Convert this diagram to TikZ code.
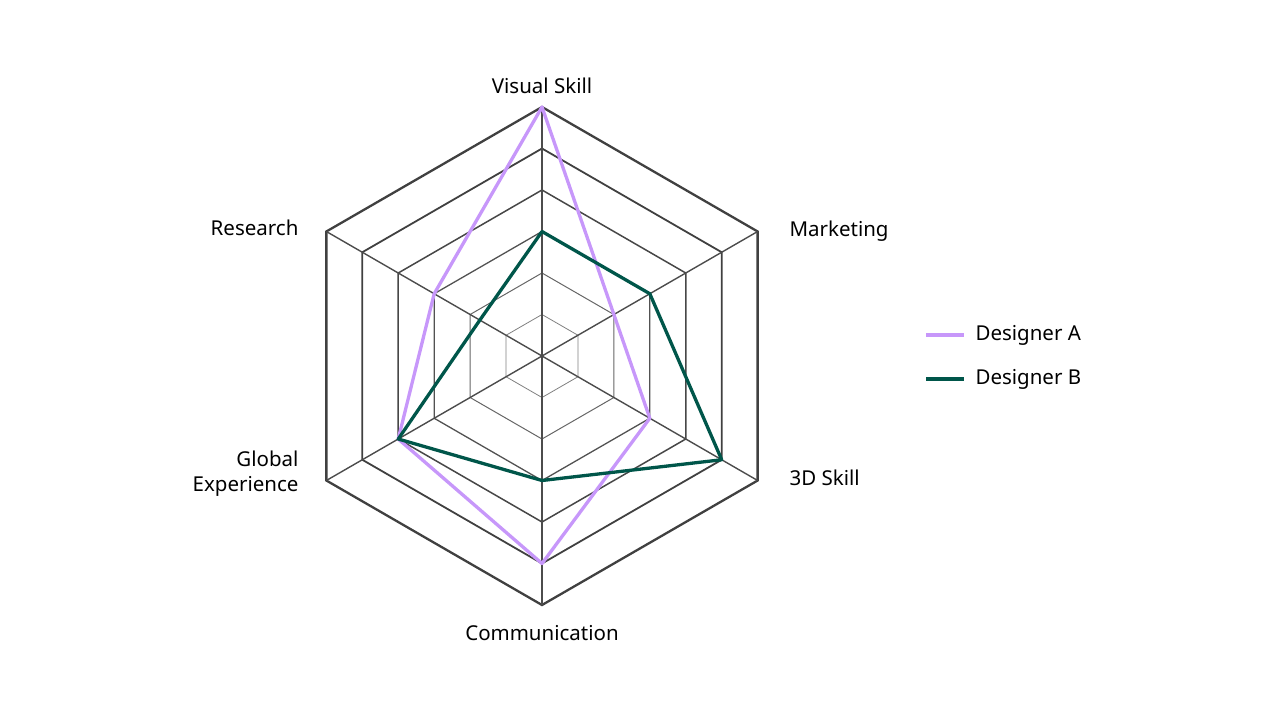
\documentclass[tikz,border=0pt]{standalone}
\usepackage{fontspec}
\setmainfont{Noto Sans}
\definecolor{pa}{HTML}{C797FA}
\definecolor{pb}{HTML}{00564A}
\begin{document}
\begin{tikzpicture}[x=1pt,y=-1pt,
  lab/.style={font=\fontsize{20.5}{25}\selectfont},
  sa/.style={pa,line width=3.3pt,line join=round},
  sb/.style={pb,line width=3.3pt,line join=round}]
\useasboundingbox (0,0) rectangle (1280,720);
\def\R{41.5}
\coordinate (c) at (542,356);
% rings
\foreach \k/\g/\w in {1/50/0.8,2/60/1.0,3/68/1.3,4/72/1.5,5/75/1.8,6/75/2.3}{
  \draw[black!\g,line width=\w pt]
    (542,{356-\k*\R}) -- ({542+0.866*\k*\R},{356-0.5*\k*\R}) -- ({542+0.866*\k*\R},{356+0.5*\k*\R})
    -- (542,{356+\k*\R}) -- ({542-0.866*\k*\R},{356+0.5*\k*\R}) -- ({542-0.866*\k*\R},{356-0.5*\k*\R}) -- cycle;
}
\foreach \dx/\dy in {0/-1,0.866/-0.5,0.866/0.5,0/1,-0.866/0.5,-0.866/-0.5}
  \draw[black!70,line width=1.4pt] (c) -- ({542+\dx*6*\R},{356+\dy*6*\R});
% data: visual, marketing, 3d, comm, global, research
\newcommand\pt[3]{({542+#2*#1*41.5},{356+#3*#1*41.5})}
\draw[sa] \pt{6}{0}{-1} -- \pt{2}{0.866}{-0.5} -- \pt{3}{0.866}{0.5} -- \pt{5}{0}{1} -- \pt{4}{-0.866}{0.5} -- \pt{3}{-0.866}{-0.5} -- cycle;
\draw[sb] \pt{3}{0}{-1} -- \pt{3}{0.866}{-0.5} -- \pt{5}{0.866}{0.5} -- \pt{3}{0}{1} -- \pt{4}{-0.866}{0.5} -- \pt{1.73}{-0.866}{-0.5} -- cycle;
% labels
\node[lab] (l1) at (542,86) {Visual Skill};
\node[lab,anchor=west] (l2) at (786,231) {Marketing};
\node[lab,anchor=west] (l3) at (786,478) {3D Skill};
\node[lab] (l4) at (542,633) {Communication};
\node[lab,anchor=east,align=right] (l5) at (302,474) {Global\\Experience};
\node[lab,anchor=east] (l6) at (302,228) {Research};
% legend
\coordinate (a1) at (926,335); \coordinate (a2) at (964,335);
\coordinate (b1) at (926,379); \coordinate (b2) at (964,379);
\draw[sa,line width=3.8pt] (a1) -- (a2);
\draw[sb,line width=3.8pt] (b1) -- (b2);
\node[lab,anchor=west] (la) at (972,335) {Designer A};
\node[lab,anchor=west] (lb) at (972,379) {Designer B};
\end{tikzpicture}
\end{document}
